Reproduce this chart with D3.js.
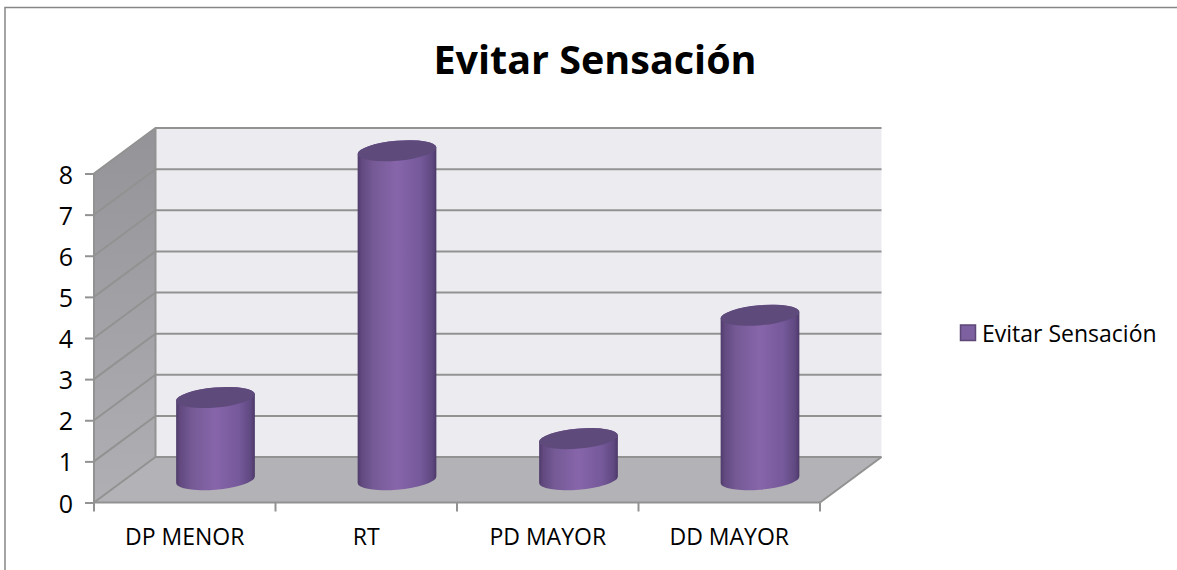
<!DOCTYPE html>
<html><head><meta charset="utf-8">
<script src="https://cdn.jsdelivr.net/npm/d3@7/dist/d3.min.js"></script>
<style>html,body{margin:0;padding:0;background:#fff;overflow:hidden}svg{display:block}text{font-family:"Open Sans",Lato,sans-serif;fill:#000}</style>
</head><body><svg id="c" width="1177" height="570"></svg>
<script>
const categories = ["DP MENOR","RT","PD MAYOR","DD MAYOR"];
const seriesName = "Evitar Sensación";
const values = [2,8,1,4];
const yTicks = [0,1,2,3,4,5,6,7,8];

const depth = {dx:61.5, dy:-45.5};
const x = d3.scaleBand().domain(categories).range([94,820]);
const y = d3.scaleLinear().domain([0,8]).range([502.5,173.5]);
const svg = d3.select("#c");
const defs = svg.append("defs");

const sg = defs.append("linearGradient").attr("id","side").attr("x1",0).attr("y1",0).attr("x2",0).attr("y2",1);
sg.append("stop").attr("offset",0).attr("stop-color","#949397");
sg.append("stop").attr("offset",1).attr("stop-color","#b0afb3");
const bg = defs.append("linearGradient").attr("id","body");
[[0,"#4f3b6c"],[.05,"#62497f"],[.2,"#755a96"],[.5,"#8765aa"],[.8,"#75599a"],[.95,"#5f4880"],[1,"#4b3867"]]
 .forEach(([o,c])=>bg.append("stop").attr("offset",o).attr("stop-color",c));

const line = "#929292";
// chart frame: the left and top edges show, the others run past the picture
svg.append("rect").attr("x",5).attr("y",7.5).attr("width",1300).attr("height",700)
  .attr("fill","#fff").attr("stroke","#878787").attr("stroke-width",1.5);

// title
svg.append("text").attr("x",595).attr("y",74).attr("text-anchor","middle")
  .attr("font-size",39.5).attr("font-weight",700).text(seriesName);

const [x0,x1] = x.range();
const y0 = y(0), yT = y(8);
const d = depth;
const poly = p => "M"+p.map(q=>q.join(",")).join("L")+"Z";
// back wall, side wall, floor
svg.append("path").attr("d",poly([[x0+d.dx,yT+d.dy],[x1+d.dx,yT+d.dy],[x1+d.dx,y0+d.dy],[x0+d.dx,y0+d.dy]])).attr("fill","#ecebf0");
svg.append("path").attr("d",poly([[x0,yT],[x0+d.dx,yT+d.dy],[x0+d.dx,y0+d.dy],[x0,y0]])).attr("fill","url(#side)");
svg.append("path").attr("d",poly([[x0,y0],[x0+d.dx,y0+d.dy],[x1+d.dx,y0+d.dy],[x1,y0]])).attr("fill","#b3b2b6");

// gridlines
svg.append("g").selectAll("path").data(yTicks).join("path")
  .attr("d",t=>`M${x0},${y(t)}L${x0+d.dx},${y(t)+d.dy}L${x1+d.dx},${y(t)+d.dy}`)
  .attr("fill","none").attr("stroke",line).attr("stroke-width",2);
// edges
svg.append("path").attr("d",`M${x0+d.dx},${yT+d.dy}V${y0+d.dy}`).attr("stroke",line).attr("stroke-width",2);
svg.append("path").attr("d",`M${x1},${y0}L${x1+d.dx},${y0+d.dy}`).attr("stroke",line).attr("stroke-width",2);

// axes
const yAxis = d3.axisLeft(y).tickValues(yTicks).tickSize(9).tickPadding(12).tickFormat(d3.format("d"));
const gy = svg.append("g").attr("transform",`translate(${x0},0)`).call(yAxis);
gy.selectAll("line,path.domain").attr("stroke",line).attr("stroke-width",2);
gy.selectAll("text").attr("font-size",25).attr("dy","0.38em");
gy.select("path.domain").attr("d",`M0,${yT}V${y0}`);

const xAxis = d3.axisBottom(x).tickSize(0).tickPadding(26);
const gx = svg.append("g").attr("transform",`translate(0,${y0})`).call(xAxis);
gx.select("path.domain").attr("d",`M${x0},0H${x1}`).attr("stroke",line).attr("stroke-width",2);
gx.selectAll("text").attr("font-size",23).attr("dy","0.71em");
gx.selectAll("g.bound").data(d3.range(categories.length+1)).join("line")
  .attr("x1",i=>x0+i*x.step()).attr("x2",i=>x0+i*x.step()).attr("y1",0).attr("y2",9)
  .attr("stroke",line).attr("stroke-width",2);

// cylinders
const rx = 39.5, ry = 10, rot = -5, th = rot*Math.PI/180;
const tv = Math.atan(-(ry/rx)*Math.tan(th));
const ex = rx*Math.cos(tv)*Math.cos(th) - ry*Math.sin(tv)*Math.sin(th);
const ey = rx*Math.cos(tv)*Math.sin(th) + ry*Math.sin(tv)*Math.cos(th);
const cx = c => x(c)+x.bandwidth()/2+d.dx/2;
const cy = v => y(v)+d.dy/2;
const bars = svg.append("g").selectAll("g").data(categories.map((c,i)=>({c,v:values[i]}))).join("g");
bars.append("path").attr("fill","url(#body)").attr("d",b=>{
  const X=cx(b.c), T=cy(b.v), B=cy(0);
  return `M${X-ex},${T-ey}L${X-ex},${B-ey}A${rx},${ry} ${rot} 0 0 ${X+ex},${B+ey}L${X+ex},${T+ey}A${rx},${ry} ${rot} 0 0 ${X-ex},${T-ey}Z`;
});
bars.append("ellipse").attr("rx",rx).attr("ry",ry).attr("fill","#5f4a7c")
  .attr("transform",b=>`translate(${cx(b.c)},${cy(b.v)}) rotate(${rot})`);

// legend
const lg = svg.append("g");
lg.append("rect").attr("x",960.5).attr("y",325).attr("width",15).attr("height",15.5)
  .attr("fill","#7d60a0").attr("stroke","#5c4776").attr("stroke-width",1.5);
lg.append("text").attr("x",982).attr("y",341.5).attr("font-size",23).text(seriesName);
</script></body></html>
